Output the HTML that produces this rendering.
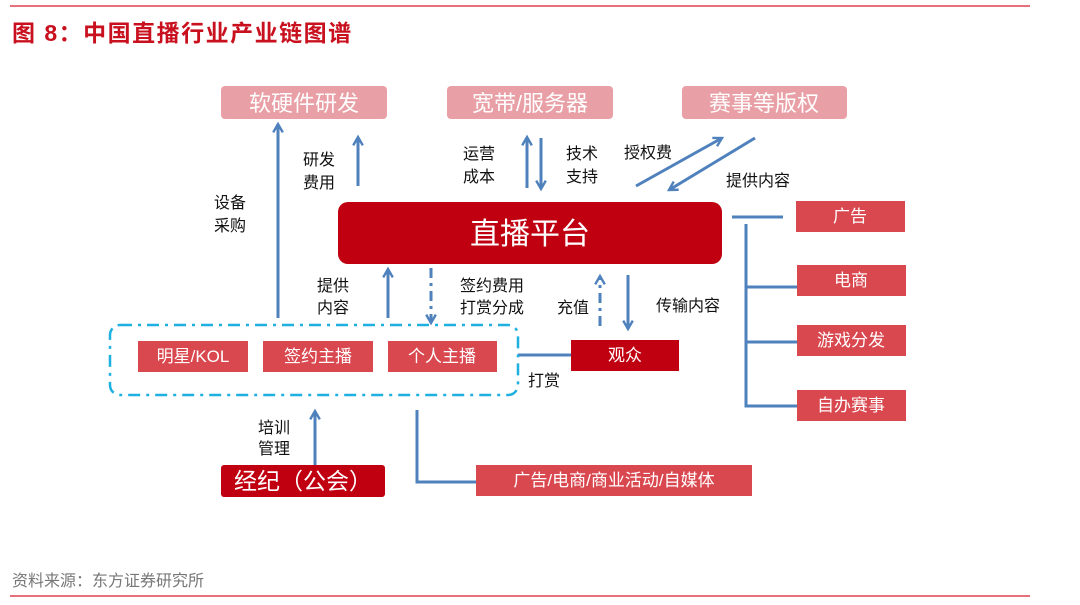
<!DOCTYPE html>
<html><head><meta charset="utf-8"><style>
body{margin:0;background:#fff;}
svg{display:block;font-family:"Liberation Sans","Noto Sans CJK SC",sans-serif;}
</style></head><body>
<svg width="1080" height="605" viewBox="0 0 1080 605" xmlns="http://www.w3.org/2000/svg">
<defs>
<marker id="a" viewBox="0 0 10 10" refX="8" refY="5" markerWidth="4" markerHeight="4" orient="auto-start-reverse">
<path d="M1,1 L8,5 L1,9" fill="none" stroke="#4f81bd" stroke-width="2"/>
</marker>
</defs>
<line x1="10" y1="6" x2="1030" y2="6" stroke="#e04050" stroke-width="1.5"/>
<line x1="10" y1="596" x2="1030" y2="596" stroke="#e04050" stroke-width="1.5"/>
<text x="12" y="41" font-size="23" font-weight="bold" fill="#c8101e" letter-spacing="1.5">图 8：中国直播行业产业链图谱</text>

<g fill="#e8a0a6">
<rect x="221" y="86" width="166" height="33" rx="4"/>
<rect x="447" y="86" width="166" height="33" rx="4"/>
<rect x="682" y="86" width="165" height="33" rx="4"/>
</g>
<g fill="#fff" font-size="22" text-anchor="middle">
<text x="304" y="111">软硬件研发</text>
<text x="530" y="111">宽带/服务器</text>
<text x="764" y="111">赛事等版权</text>
</g>

<rect x="338" y="202" width="384" height="62" rx="10" fill="#c00010"/>
<text x="530" y="244" font-size="30" fill="#fff" text-anchor="middle">直播平台</text>

<g stroke="#4f81bd" stroke-width="3" fill="none" marker-end="url(#a)">
<line x1="278" y1="318" x2="278" y2="124"/>
<line x1="358" y1="186" x2="358" y2="137"/>
<line x1="527" y1="188" x2="527" y2="137"/>
<line x1="541" y1="138" x2="541" y2="189"/>
<line x1="636" y1="186" x2="722" y2="138"/>
<line x1="755" y1="138" x2="669" y2="190"/>
<line x1="388" y1="318" x2="388" y2="269"/>
<line x1="628" y1="275" x2="628" y2="329"/>
<line x1="315" y1="470" x2="315" y2="411"/>
<line x1="431" y1="268" x2="431" y2="323" stroke-dasharray="10 5 3 5"/>
<line x1="600" y1="326" x2="600" y2="276" stroke-dasharray="10 5 3 5"/>
</g>
<g stroke="#4f81bd" stroke-width="3" fill="none">
<line x1="732" y1="217" x2="783" y2="217"/>
<polyline points="746,224 746,406 797,406"/>
<line x1="746" y1="287" x2="797" y2="287"/>
<line x1="746" y1="342" x2="797" y2="342"/>
<line x1="518" y1="355" x2="571" y2="355"/>
<polyline points="417,410 417,482 476,482"/>
</g>

<g font-size="16" fill="#111">
<text x="214" y="208">设备</text><text x="214" y="231">采购</text>
<text x="303" y="165">研发</text><text x="303" y="188">费用</text>
<text x="463" y="159">运营</text><text x="463" y="182">成本</text>
<text x="566" y="159">技术</text><text x="566" y="182">支持</text>
<text x="624" y="158">授权费</text>
<text x="726" y="186">提供内容</text>
<text x="317" y="291">提供</text><text x="317" y="313">内容</text>
<text x="460" y="291">签约费用</text><text x="460" y="313">打赏分成</text>
<text x="557" y="313">充值</text>
<text x="656" y="311">传输内容</text>
<text x="528" y="386">打赏</text>
<text x="258" y="433">培训</text><text x="258" y="454">管理</text>
</g>

<rect x="110" y="325" width="408" height="70" rx="10" fill="none" stroke="#1eb0e0" stroke-width="2.5" stroke-dasharray="12 6 3 6"/>
<g fill="#d9474f">
<rect x="138" y="341" width="110" height="31"/>
<rect x="263" y="341" width="110" height="31"/>
<rect x="388" y="341" width="109" height="31"/>
<rect x="796" y="201" width="109" height="31"/>
<rect x="797" y="265" width="109" height="31"/>
<rect x="797" y="325" width="109" height="31"/>
<rect x="797" y="390" width="109" height="31"/>
<rect x="476" y="465" width="276" height="31"/>
</g>
<rect x="571" y="340" width="108" height="31" fill="#c00010"/>
<rect x="221" y="465" width="164" height="32" rx="3" fill="#c00010"/>
<g fill="#fff" font-size="17" text-anchor="middle">
<text x="193" y="362">明星/KOL</text>
<text x="318" y="362">签约主播</text>
<text x="442" y="362">个人主播</text>
<text x="625" y="361">观众</text>
<text x="850" y="222">广告</text>
<text x="851" y="286">电商</text>
<text x="851" y="346">游戏分发</text>
<text x="851" y="411">自办赛事</text>
<text x="614" y="486">广告/电商/商业活动/自媒体</text>
<text x="303" y="489" font-size="23">经纪（公会）</text>
</g>
<text x="12" y="586" font-size="16" fill="#777">资料来源：东方证券研究所</text>
</svg>
</body></html>
